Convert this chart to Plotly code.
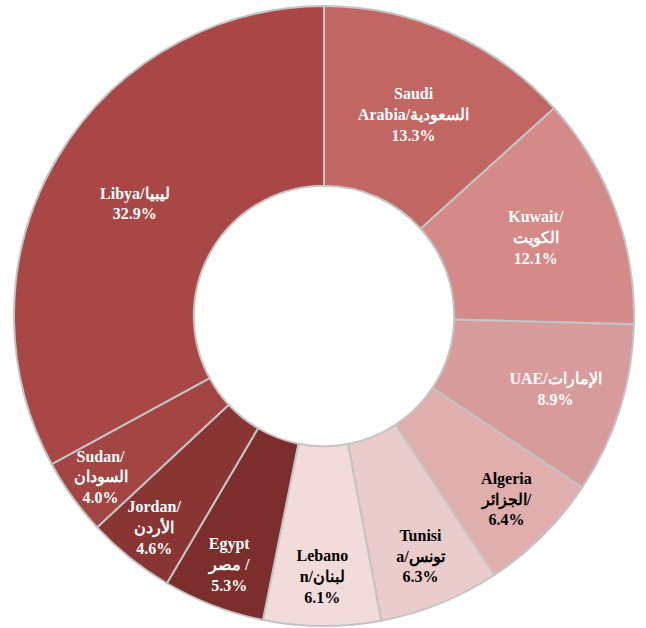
import plotly.graph_objects as go

# Slices in drawing order, clockwise from 12 o'clock
labels = [
    "Saudi<br>Arabia/السعودية",
    "Kuwait/<br>الكويت",
    "UAE/الإمارات",
    "Algeria<br>الجزائر/",
    "Tunisi<br>a/تونس",
    "Lebano<br>n/لبنان",
    "Egypt<br>مصر /",
    "Jordan/<br>الأردن",
    "Sudan/<br>السودان",
    "Libya/ليبيا",
]
shares = [13.3, 12.1, 8.9, 6.4, 6.3, 6.1, 5.3, 4.6, 4.0, 32.9]

slice_colors = [
    "#C16662", "#D38A88", "#D89B9B", "#E0AEAD", "#EBCCCC",
    "#F1DBDB", "#7B2E2C", "#883533", "#A24543", "#A84745",
]
text_colors = [
    "white", "white", "white", "black", "black",
    "black", "white", "white", "white", "white",
]

fig = go.Figure(
    go.Pie(
        labels=[l.replace("<br>", " ") for l in labels],
        values=shares,
        text=labels,
        texttemplate="<b>%{text}<br>%{value:.1f}%</b>",
        textposition="inside",
        insidetextorientation="horizontal",
        textfont=dict(family="Liberation Serif, Times New Roman, serif",
                      size=16, color=text_colors),
        hole=0.42,
        sort=False,
        direction="clockwise",
        rotation=0,
        marker=dict(colors=slice_colors, line=dict(color="#C4C4C4", width=2)),
        hoverinfo="label+percent",
    )
)

fig.update_layout(
    width=646,
    height=628,
    margin=dict(l=14, r=12, t=6, b=2),
    showlegend=False,
    paper_bgcolor="white",
    plot_bgcolor="white",
    uniformtext=dict(minsize=16, mode="show"),
    font=dict(family="Liberation Serif, Times New Roman, serif"),
)

fig.write_html("out.html")
